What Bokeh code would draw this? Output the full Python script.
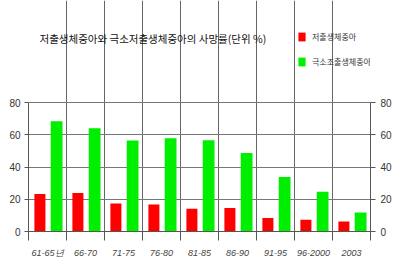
from bokeh.plotting import figure
from bokeh.models import (Range1d, LinearAxis, FixedTicker, Label, Legend, LegendItem,
                          ColumnDataSource)
from bokeh.embed import file_html
from bokeh.resources import INLINE

categories = ["61-65년", "66-70", "71-75", "76-80", "81-85", "86-90", "91-95", "96-2000", "2003"]
low_weight = [23.2, 23.8, 17.4, 16.8, 14.1, 14.5, 8.3, 7.3, 6.2]
very_low_weight = [68.4, 64.0, 56.4, 57.8, 56.6, 48.7, 33.8, 24.7, 11.8]
y_ticks = [0, 20, 40, 60, 80]
title_text = "저출생체중아와 극소저출생체중아의  사망률(단위 %)"
legend_labels = ["저출생체중아", "극소조출생체중아"]

KR = "Noto Sans CJK KR"
idx = list(range(len(categories)))
src = ColumnDataSource(dict(
    xr=[i + 0.30 for i in idx],
    xg=[i + 0.74 for i in idx],
    red=low_weight,
    green=very_low_weight,
))

Y_MAX = 80
# frame spans canvas y 0..231; value 80 sits at canvas y 102
y_top = Y_MAX * 231 / 129

p = figure(width=400, height=271, output_backend="svg", toolbar_location=None,
           x_range=Range1d(0, len(categories)), y_range=Range1d(0, y_top),
           min_border_left=28, min_border_right=30, min_border_top=0, min_border_bottom=40,
           x_axis_location=None, y_axis_location=None)
p.outline_line_color = None
p.background_fill_color = "white"
p.border_fill_color = "white"

r1 = p.vbar(x="xr", top="red", width=0.29, bottom=0, source=src,
            fill_color="#ff0000", line_color=None)
r2 = p.vbar(x="xg", top="green", width=0.31, bottom=0, source=src,
            fill_color="#00ee00", line_color=None)

# axes
left = LinearAxis(ticker=FixedTicker(ticks=y_ticks), bounds=(0, Y_MAX))
right = LinearAxis(ticker=FixedTicker(ticks=y_ticks), bounds=(0, Y_MAX))
for ax in (left, right):
    ax.axis_line_color = "#555555"
    ax.major_tick_line_color = "#555555"
    ax.major_tick_in = 0
    ax.minor_tick_line_color = None
    ax.major_label_text_font = "Liberation Sans"
    ax.major_label_text_font_size = "10px"
    ax.major_label_text_color = "#333333"
left.major_tick_out = 4
left.major_label_standoff = 4
right.major_tick_out = 5
right.major_label_standoff = 5
p.add_layout(left, "left")
p.add_layout(right, "right")

xax = LinearAxis(ticker=FixedTicker(ticks=[i + 0.5 for i in idx],
                                    minor_ticks=list(range(len(categories) + 1))))
xax.major_label_overrides = {i + 0.5: c for i, c in enumerate(categories)}
xax.axis_line_color = "#555555"
xax.major_tick_line_color = None
xax.minor_tick_line_color = "#555555"
xax.minor_tick_out = 9
xax.minor_tick_in = 0
xax.major_label_standoff = 7
xax.major_label_text_font = "Liberation Sans"
xax.major_label_text_font_style = "italic"
xax.major_label_text_font_size = "9px"
xax.major_label_text_color = "#444444"
p.add_layout(xax, "below")

# grids
p.xgrid.ticker = FixedTicker(ticks=list(range(1, len(categories))))
p.xgrid.bounds = (0, Y_MAX)
p.ygrid.ticker = FixedTicker(ticks=y_ticks)
p.xgrid.grid_line_color = "#666666"
p.ygrid.grid_line_color = "#777777"

# title
p.add_layout(Label(x=11, y=193, x_units="screen", y_units="screen", text=title_text,
                   text_font=KR, text_font_size="10.5px", text_color="#111111",
                   text_baseline="middle", text_align="left"))

legend = Legend(items=[LegendItem(label=legend_labels[0], renderers=[r1]),
                       LegendItem(label=legend_labels[1], renderers=[r2])],
                location=(269, 164), orientation="vertical",
                glyph_width=9, glyph_height=11, label_height=11, spacing=14,
                label_standoff=6, padding=0, margin=0,
                border_line_color=None, background_fill_alpha=0,
                label_text_font=KR, label_text_font_size="8px", label_text_color="#333333")
p.add_layout(legend, "center")

open("out.html", "w").write(file_html(p, INLINE))
